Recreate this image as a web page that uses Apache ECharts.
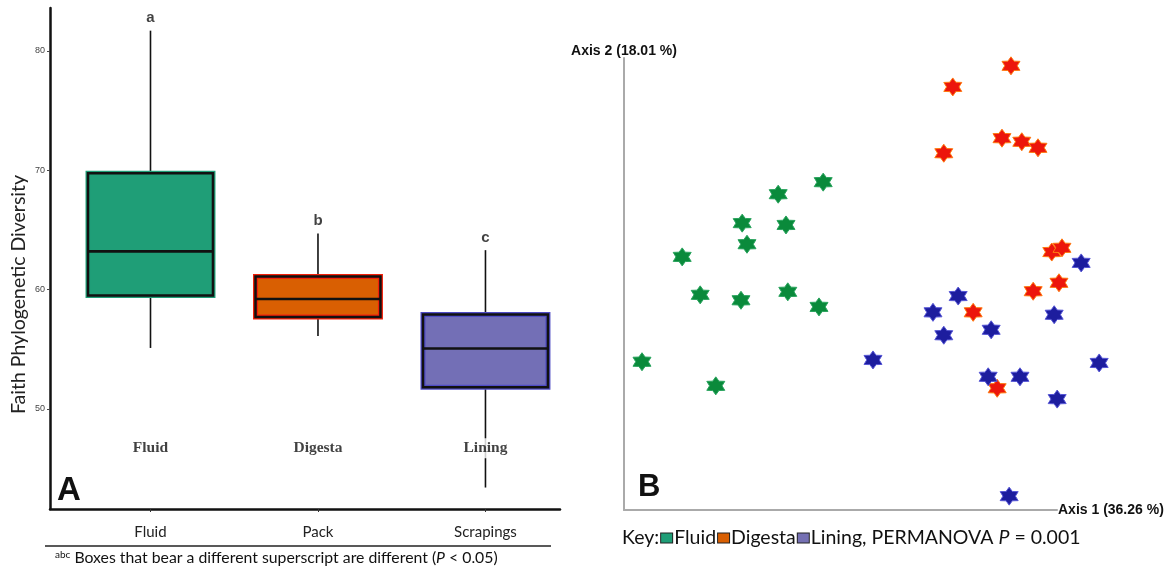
<!DOCTYPE html>
<html>
<head>
<meta charset="utf-8">
<script src="https://cdn.jsdelivr.net/npm/echarts@6/dist/echarts.min.js"></script>
<style>
  html, body { margin: 0; padding: 0; background: #fff; }
  #chart { width: 1174px; height: 573px; }
</style>
</head>
<body>
<div id="chart"></div>
<script>
// ---- Panel A: Faith phylogenetic diversity by sampling site ----
const siteLabels = ['Fluid', 'Pack', 'Scrapings'];
const siteNames = ['Fluid', 'Digesta', 'Lining'];
const siteLetters = ['a', 'b', 'c'];
// [position, whisker low, Q1, median, Q3, whisker high]
const faithStats = [
  [1, 55.1, 59.5, 63.2, 69.75, 81.7],
  [2, 56.1, 57.7, 59.2, 61.1, 64.7],
  [3, 43.4, 51.8, 55.05, 57.9, 63.3]
];
const faithTicks = [50, 60, 70, 80];
const siteNameLevel = 46.7;

// ---- Panel B: PCoA scores [Axis 1, Axis 2] ----
const fluidPts = [
  [-0.068, 0.144], [-0.143, 0.124], [-0.203, 0.076], [-0.130, 0.073],
  [-0.195, 0.041], [-0.303, 0.020], [-0.273, -0.043], [-0.205, -0.052],
  [-0.127, -0.038], [-0.075, -0.063], [-0.370, -0.154], [-0.247, -0.194]
];
const digestaPts = [
  [0.245, 0.337], [0.148, 0.302], [0.230, 0.217], [0.263, 0.211],
  [0.290, 0.201], [0.133, 0.192], [0.313, 0.028], [0.330, 0.035],
  [0.325, -0.023], [0.282, -0.037], [0.182, -0.072], [0.222, -0.198]
];
const liningPts = [
  [0.015, -0.151], [0.362, 0.010], [0.157, -0.045], [0.115, -0.072],
  [0.133, -0.110], [0.212, -0.101], [0.317, -0.076], [0.207, -0.179],
  [0.260, -0.179], [0.392, -0.156], [0.322, -0.216], [0.242, -0.377]
];

const boxFill = ['#1f9e77', '#d95f02', '#736fb6'];
const boxEdge = ['#1f9e77', '#f2200a', '#4f4cc4'];
const calibri = 'Lato, "Open Sans", sans-serif';
const arial = '"Liberation Sans", Arial, sans-serif';
const star = 'path://M100 0 L130 48 L186.6 50 L160 100 L186.6 150 L130 152 L100 200 L70 152 L13.4 150 L40 100 L13.4 50 L70 48 Z';

const chart = echarts.init(document.getElementById('chart'), null, { renderer: 'canvas' });

function starSeries(name, data, fill, edge) {
  return {
    name, type: 'scatter', xAxisIndex: 1, yAxisIndex: 1,
    data, symbol: star, symbolSize: [18, 18], clip: false,
    itemStyle: { color: fill, borderColor: edge, borderWidth: 1, opacity: 1 },
    z: 3
  };
}

const option = {
  backgroundColor: '#fff',
  animation: false,
  textStyle: { fontFamily: calibri },
  grid: [
    { left: 50, top: 8, width: 510, height: 501, outerBoundsMode: 'none' },
    // the Axis 1 line stops short of the right-most scores, which are drawn unclipped
    { left: 624, top: 58, width: 433, height: 452, outerBoundsMode: 'none' }
  ],
  xAxis: [
    {
      gridIndex: 0, type: 'value', min: 0.4, max: 3.445,
      splitLine: { show: false },
      axisLine: { show: true, onZero: false, lineStyle: { color: '#111', width: 2.5 } },
      axisTick: { show: true, customValues: [1, 2, 3], length: 3, lineStyle: { color: '#333', width: 1 } },
      axisLabel: {
        show: true, customValues: [1, 2, 3], margin: 16,
        formatter: v => siteLabels[Math.round(v) - 1],
        color: '#222', fontSize: 15, fontFamily: calibri
      }
    },
    {
      gridIndex: 1, type: 'value', min: -0.4, max: 0.3217,
      splitLine: { show: false }, axisTick: { show: false }, axisLabel: { show: false },
      axisLine: { show: true, onZero: false, lineStyle: { color: '#aaa', width: 2 } },
      name: 'Axis 1 (36.26 %)', nameLocation: 'end', nameGap: 1,
      nameTextStyle: {
        align: 'left', verticalAlign: 'middle', fontWeight: 'bold', fontSize: 14,
        fontFamily: arial, color: '#111', padding: [5, 0, 0, 0]
      }
    }
  ],
  yAxis: [
    {
      gridIndex: 0, type: 'value', min: 41.6, max: 83.6,
      splitLine: { show: false },
      axisLine: { show: true, onZero: false, lineStyle: { color: '#111', width: 2.5 } },
      axisTick: { show: true, customValues: faithTicks, length: 3, lineStyle: { color: '#444', width: 1 } },
      axisLabel: { show: true, customValues: faithTicks, margin: 5, color: '#444', fontSize: 9, fontFamily: arial },
      name: 'Faith Phylogenetic Diversity', nameLocation: 'middle', nameGap: 21,
      nameTextStyle: { fontSize: 19.5, color: '#222', fontFamily: calibri, padding: [0, 72, 0, 0] }
    },
    {
      gridIndex: 1, type: 'value', min: -0.4, max: 0.35,
      splitLine: { show: false }, axisTick: { show: false }, axisLabel: { show: false },
      axisLine: { show: true, onZero: false, lineStyle: { color: '#aaa', width: 2 } },
      name: 'Axis 2 (18.01 %)', nameLocation: 'end', nameGap: 0,
      nameTextStyle: {
        align: 'center', verticalAlign: 'bottom', fontWeight: 'bold', fontSize: 14,
        fontFamily: arial, color: '#111'
      }
    }
  ],
  title: [
    { text: 'A', left: 57, top: 474, padding: 0, textStyle: { fontSize: 33, fontWeight: 'bold', color: '#111', fontFamily: arial } },
    { text: 'B', left: 638, top: 472, padding: 0, textStyle: { fontSize: 31, fontWeight: 'bold', color: '#111', fontFamily: arial } },
    {
      text: '{sup|abc} Boxes that bear a different superscript are different ({i|P} < 0.05)',
      left: 55, top: 550, padding: 0,
      textStyle: {
        fontSize: 15.8, color: '#111', fontWeight: 'normal', fontFamily: calibri,
        rich: {
          sup: { fontSize: 10, verticalAlign: 'top', color: '#111', fontFamily: calibri },
          i: { fontSize: 15.8, fontStyle: 'italic', color: '#111', fontFamily: calibri }
        }
      }
    },
    {
      text: 'Key:{s|}{g|}{s|}Fluid{s|}{o|}{s|}Digesta{s|}{p|}{s|}Lining, PERMANOVA {i|P} = 0.001',
      left: 622, top: 528, padding: 0,
      textStyle: {
        fontSize: 19.5, color: '#111', fontWeight: 'normal', fontFamily: calibri,
        rich: {
          s: { width: 2 },
          g: { width: 11, height: 9, backgroundColor: '#1f9e77', borderColor: '#222', borderWidth: 1 },
          o: { width: 11, height: 9, backgroundColor: '#d95f02', borderColor: '#222', borderWidth: 1 },
          p: { width: 11, height: 9, backgroundColor: '#7570b3', borderColor: '#222', borderWidth: 1 },
          i: { fontSize: 19.5, fontStyle: 'italic', color: '#111', fontFamily: calibri }
        }
      }
    }
  ],
  graphic: [
    // rule between the category axis and the footnote
    { type: 'line', shape: { x1: 45, y1: 546, x2: 551, y2: 546 }, style: { stroke: '#222', lineWidth: 1.5 }, silent: true }
  ],
  series: [
    {
      type: 'custom', xAxisIndex: 0, yAxisIndex: 0,
      data: faithStats,
      encode: { x: 0, y: [1, 2, 3, 4, 5] },
      z: 2,
      renderItem(params, api) {
        const i = params.dataIndex;
        const x = api.value(0);
        const lo = api.coord([x, api.value(1)]);
        const q1 = api.coord([x, api.value(2)]);
        const med = api.coord([x, api.value(3)]);
        const q3 = api.coord([x, api.value(4)]);
        const hi = api.coord([x, api.value(5)]);
        const half = api.size([1, 0])[0] * 0.373;
        const cx = lo[0];
        const whisker = { stroke: '#111', lineWidth: 1.6 };
        return {
          type: 'group',
          children: [
            { type: 'line', shape: { x1: cx, y1: hi[1], x2: cx, y2: q3[1] }, style: whisker },
            { type: 'line', shape: { x1: cx, y1: q1[1], x2: cx, y2: lo[1] }, style: whisker },
            { type: 'rect', shape: { x: cx - half, y: q3[1], width: 2 * half, height: q1[1] - q3[1] },
              style: { fill: boxFill[i], stroke: boxEdge[i], lineWidth: 5 } },
            { type: 'rect', shape: { x: cx - half, y: q3[1], width: 2 * half, height: q1[1] - q3[1] },
              style: { fill: 'none', stroke: '#111', lineWidth: 2.5 } },
            { type: 'line', shape: { x1: cx - half, y1: med[1], x2: cx + half, y2: med[1] },
              style: { stroke: '#111', lineWidth: 2.6 } }
          ]
        };
      }
    },
    {
      // significance letters above each upper whisker
      type: 'scatter', xAxisIndex: 0, yAxisIndex: 0, z: 5,
      data: faithStats.map(s => [s[0], s[5]]),
      symbolSize: 0, silent: true,
      label: {
        show: true, position: 'top', distance: 5,
        formatter: p => siteLetters[p.dataIndex],
        fontSize: 15, fontWeight: 'bold', color: '#111', fontFamily: arial
      }
    },
    {
      // site names written inside the plot area
      type: 'scatter', xAxisIndex: 0, yAxisIndex: 0, z: 6,
      data: faithStats.map(s => [s[0], siteNameLevel]),
      symbolSize: 0, silent: true,
      label: {
        show: true, position: 'inside',
        formatter: p => siteNames[p.dataIndex],
        fontSize: 15.5, fontWeight: 'bold', color: '#111',
        fontFamily: '"Liberation Serif", "Times New Roman", serif',
        backgroundColor: '#fff', padding: [2, 3]
      }
    },
    starSeries('Fluid', fluidPts, '#0a8a3b', '#2aa45e'),
    starSeries('Digesta', digestaPts, '#ec160c', '#ff7a10'),
    starSeries('Lining', liningPts, '#1d1d9e', '#5656d6')
  ]
};

chart.setOption(option);
</script>
</body>
</html>
